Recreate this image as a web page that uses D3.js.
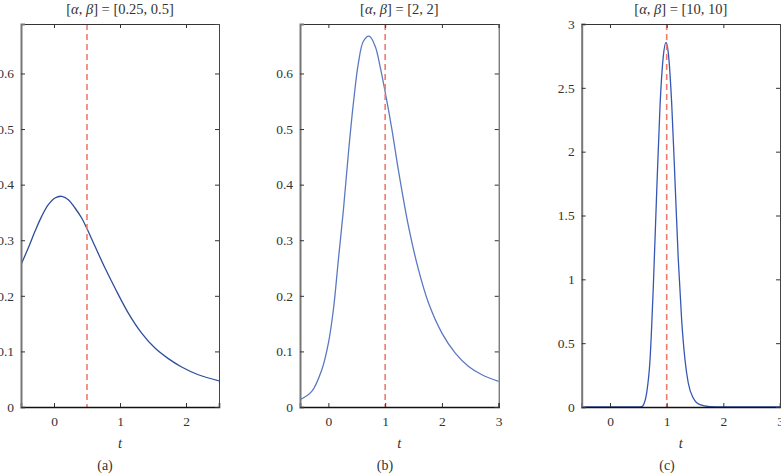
<!DOCTYPE html>
<html>
<head>
<meta charset="utf-8">
<script src="https://cdn.jsdelivr.net/npm/d3@7"></script>
<style>
  html, body { margin: 0; padding: 0; background: #fff; }
  svg { display: block; }
  text { font-family: "Liberation Serif", "DejaVu Serif", serif; fill: #333; }
</style>
</head>
<body>
<svg id="chart" width="781" height="474"></svg>
<script>
// ---- data ----
const titlesParams = ["0.25, 0.5", "2, 2", "10, 10"];
const captions = ["(a)", "(b)", "(c)"];
const markers = [0.5, 1, 1];

const tA = [-0.5,-0.39,-0.288,-0.187,-0.086,0.015,0.116,0.217,0.318,0.419,0.495,0.621,0.773,0.924,1.126,1.328,1.53,1.732,1.934,2.187,2.5];
const fA = [0.256,0.286,0.316,0.343,0.364,0.376,0.379,0.373,0.358,0.340,0.322,0.289,0.250,0.214,0.169,0.133,0.106,0.087,0.072,0.058,0.047];

const tB = [-0.5,-0.293,-0.116,0,0.088,0.176,0.265,0.353,0.441,0.529,0.617,0.718,0.824,0.912,1.0,1.118,1.235,1.411,1.587,1.764,2.0,2.235,2.47,2.705,3.0];
const fB = [0.013,0.028,0.067,0.115,0.175,0.265,0.355,0.457,0.547,0.619,0.658,0.667,0.649,0.612,0.567,0.500,0.425,0.325,0.247,0.187,0.133,0.097,0.073,0.058,0.046];

const tC = [-0.5,0,0.5,0.559,0.6,0.647,0.706,0.764,0.823,0.882,0.94,0.988,1.029,1.088,1.146,1.205,1.264,1.323,1.381,1.469,1.587,1.764,2,3];
const fC = [0,0,0,0.002,0.025,0.11,0.37,0.944,1.676,2.354,2.746,2.855,2.772,2.38,1.78,1.153,0.684,0.37,0.188,0.07,0.018,0.003,0,0];

const xTicksA = [0,1,2];
const xTicksB = [0,1,2,3];
const xTicksC = [0,1,2,3];
const yTicksA = [0,0.1,0.2,0.3,0.4,0.5,0.6];
const yTicksB = [0,0.1,0.2,0.3,0.4,0.5,0.6];
const yTicksC = [0,0.5,1,1.5,2,2.5,3];

// ---- layout ----
const panels = [
  { t: tA, f: fA, xd: [-0.5, 2.5], yd: [0, 0.689], xt: xTicksA, yt: yTicksA,
    left: 21, right: 219, color: "#2e4d9c", capX: 105, curve: d3.curveCatmullRom },
  { t: tB, f: fB, xd: [-0.5, 3], yd: [0, 0.689], xt: xTicksB, yt: yTicksB,
    left: 300, right: 498.7, color: "#5b79c2", capX: 385, curve: d3.curveCatmullRom },
  { t: tC, f: fC, xd: [-0.5, 3], yd: [0, 3], xt: xTicksC, yt: yTicksC,
    left: 581.7, right: 780, color: "#3656b4", capX: 667, curve: d3.curveMonotoneX }
];
const plotTop = 24, plotBottom = 407;
const svg = d3.select("#chart");

panels.forEach((p, i) => {
  const x = d3.scaleLinear().domain(p.xd).range([p.left, p.right]);
  const y = d3.scaleLinear().domain(p.yd).range([plotBottom, plotTop]);
  const g = svg.append("g");

  g.append("clipPath").attr("id", "clip" + i)
    .append("rect").attr("x", p.left).attr("y", plotTop)
    .attr("width", p.right - p.left).attr("height", plotBottom - plotTop);

  // curve
  const pts = p.t.map((t, k) => [t, p.f[k]]);
  g.append("path")
    .attr("clip-path", `url(#clip${i})`)
    .attr("d", d3.line().x(d => x(d[0])).y(d => y(d[1])).curve(p.curve)(pts))
    .attr("fill", "none").attr("stroke", p.color).attr("stroke-width", 1.3);

  // dashed marker
  g.append("line")
    .attr("x1", x(markers[i])).attr("x2", x(markers[i]))
    .attr("y1", y(p.yd[1])).attr("y2", y(0))
    .attr("stroke", "#f27b6c").attr("stroke-width", 1.6)
    .attr("stroke-dasharray", "6,4");

  // axes (inward ticks)
  const tickLen = 4;
  const fmt = d => String(d);
  const xb = g.append("g").attr("transform", `translate(0,${plotBottom})`)
    .call(d3.axisBottom(x).tickValues(p.xt).tickSize(-tickLen).tickPadding(9).tickFormat(fmt));
  const xtop = g.append("g").attr("transform", `translate(0,${plotTop})`)
    .call(d3.axisTop(x).tickValues(p.xt).tickSize(-tickLen).tickFormat(""));
  const yl = g.append("g").attr("transform", `translate(${p.left},0)`)
    .call(d3.axisLeft(y).tickValues(p.yt).tickSize(-tickLen).tickPadding(7).tickFormat(fmt));
  const yr = g.append("g").attr("transform", `translate(${p.right},0)`)
    .call(d3.axisRight(y).tickValues(p.yt).tickSize(-tickLen).tickFormat(""));

  [xb, xtop, yl, yr].forEach(a => {
    a.selectAll(".tick line").attr("stroke", "#333").attr("stroke-width", 1);
    a.selectAll(".tick text").attr("font-size", 13.5).attr("fill", "#333")
      .style("font-family", '"Liberation Serif", "DejaVu Serif", serif');
  });
  xb.select(".domain").attr("stroke", "#111").attr("stroke-width", 1.5);
  xtop.select(".domain").attr("stroke", "#333").attr("stroke-width", 1);
  yl.select(".domain").attr("stroke", "#777").attr("stroke-width", 2);
  yr.select(".domain").attr("stroke", "#444").attr("stroke-width", 1);

  // title
  const cx = (p.left + p.right) / 2;
  const title = g.append("text").attr("x", cx).attr("y", 14)
    .attr("text-anchor", "middle").attr("font-size", 14.5);
  title.append("tspan").text("[");
  title.append("tspan").attr("font-style", "italic").text("α");
  title.append("tspan").text(", ");
  title.append("tspan").attr("font-style", "italic").text("β");
  title.append("tspan").text("] = [" + titlesParams[i] + "]");

  // x label
  g.append("text").attr("x", cx).attr("y", 448).attr("text-anchor", "middle")
    .attr("font-size", 14.5).attr("font-style", "italic").text("t");

  // caption
  g.append("text").attr("x", p.capX).attr("y", 470).attr("text-anchor", "middle")
    .attr("font-size", 14).text(captions[i]);
});
</script>
</body>
</html>
